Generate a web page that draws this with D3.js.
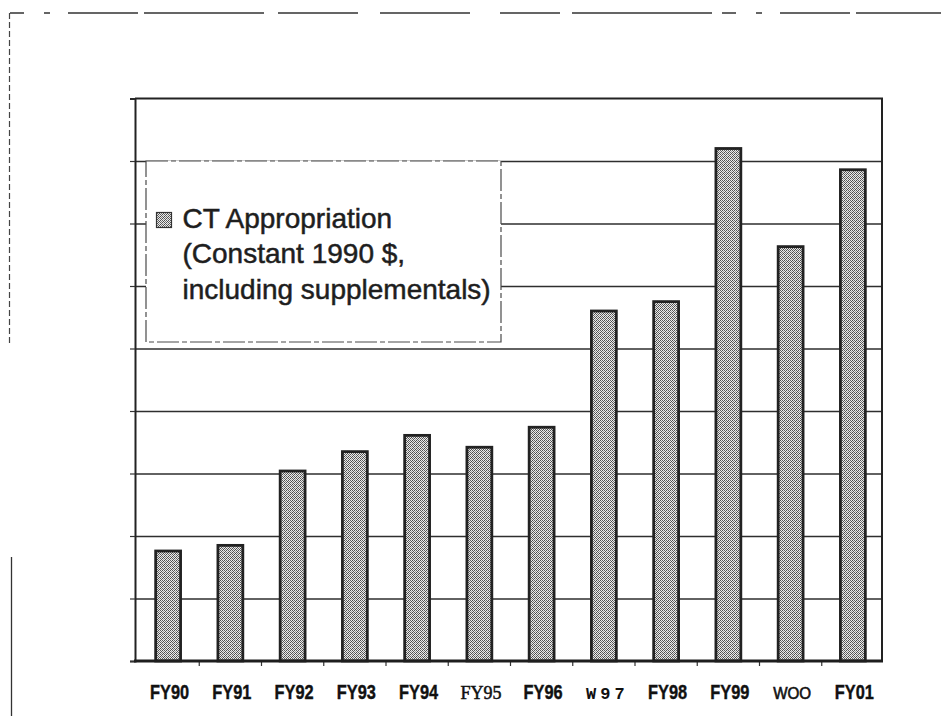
<!DOCTYPE html>
<html>
<head>
<meta charset="utf-8">
<script src="https://cdn.jsdelivr.net/npm/d3@7/dist/d3.min.js"></script>
<style>
  body { margin: 0; background: #fff; }
  svg { display: block; }
</style>
</head>
<body>
<svg id="chart" width="941" height="717"></svg>
<script>
'use strict';

// categories and values (constant 1990 $; gridline = 10)
const years = ['FY90', 'FY91', 'FY92', 'FY93', 'FY94', 'FY95', 'FY96', 'W97', 'FY98', 'FY99', 'WOO', 'FY01'];
const appropriation = [17.6, 18.5, 30.4, 33.5, 36.1, 34.2, 37.4, 56.0, 57.5, 82.0, 66.3, 78.6];
const yTicks = [0, 10, 20, 30, 40, 50, 60, 70, 80, 90];
const legendLines = ['CT Appropriation', '(Constant 1990 $,', 'including supplementals)'];

let svg = d3.select('#chart');

let plotLeft = 135, plotRight = 882, plotTop = 98.5, plotBottom = 661;

// the scan has the labels in a few different faces
let labelStyle = function(d) {
    if (d === 'FY95') return {font: 'font-family: "Liberation Serif", serif; font-size: 18px;', sx: 1, stroke: 0.5, dx: 0};
    if (d === 'W97') return {font: 'font-family: "Liberation Mono", monospace; font-size: 17px; font-weight: bold; letter-spacing: 4px;', sx: 1, stroke: 0, dx: 2};
    if (d === 'WOO') return {font: 'font-family: "Liberation Sans", Arial, sans-serif; font-size: 16px;', sx: 0.95, stroke: 0.6, dx: 0};
    return {font: 'font-family: "Liberation Sans", Arial, sans-serif; font-size: 19.5px; font-weight: bold;', sx: 0.84, stroke: 0.4, dx: 0};
};

let x = d3.scaleBand()
    .domain(years)
    .range([plotLeft + 2, plotRight + 2])
    .paddingInner(0.6)
    .paddingOuter(0.3);

let y = d3.scaleLinear()
    .domain([0, 90])
    .range([plotBottom, plotTop]);

// stipple fill for the bars
let defs = svg.append('defs');
let pat = defs.append('pattern')
    .attr('id', 'stipple')
    .attr('patternUnits', 'userSpaceOnUse')
    .attr('width', 4)
    .attr('height', 4);
pat.append('rect').attr('width', 4).attr('height', 4).attr('fill', '#ebebeb');
[[0, 0, '#4a4a4a'], [2, 0, '#606060'], [1, 1, '#777'], [3, 1, '#4a4a4a'],
 [0, 2, '#5a5a5a'], [2, 2, '#505050'], [1, 3, '#555'], [3, 3, '#999']]
    .forEach(p => pat.append('rect')
        .attr('x', p[0]).attr('y', p[1]).attr('width', 1).attr('height', 1).attr('fill', p[2]));

// outer page frame from the scan
svg.append('line')
    .attr('x1', 10).attr('y1', 13).attr('x2', 941).attr('y2', 13)
    .attr('stroke', '#333').attr('stroke-width', 1.5)
    .attr('stroke-dasharray', '14,20,6,18,70,6,120,14,80,22,90,30,60,12,140,10');
svg.append('line')
    .attr('x1', 9.5).attr('y1', 13).attr('x2', 9.5).attr('y2', 345)
    .attr('stroke', '#444').attr('stroke-width', 1.2)
    .attr('stroke-dasharray', '6,3');
svg.append('line')
    .attr('x1', 11.5).attr('y1', 557).attr('x2', 11.5).attr('y2', 716)
    .attr('stroke', '#333').attr('stroke-width', 1.3);

// gridlines
svg.append('g')
    .attr('transform', `translate(${plotLeft},0)`)
    .call(d3.axisLeft(y).tickValues(yTicks.slice(1, -1)).tickSize(-(plotRight - plotLeft)).tickFormat(''))
    .call(g => g.select('.domain').remove())
    .call(g => g.selectAll('.tick line').attr('stroke', '#2e2e2e').attr('stroke-width', 1.6));

// legend box
let legend = svg.append('g');
legend.append('rect')
    .attr('x', 146).attr('y', 161)
    .attr('width', 355).attr('height', 181)
    .attr('fill', '#fff')
    .attr('stroke', '#4a4a4a').attr('stroke-width', 1.2)
    .attr('stroke-dasharray', '22,3,5,3');
legend.append('rect')
    .attr('x', 156.5).attr('y', 212.5)
    .attr('width', 15).attr('height', 15)
    .attr('fill', 'url(#stipple)')
    .attr('stroke', '#333').attr('stroke-width', 1.2);
legend.append('text')
    .attr('x', 182.5)
    .attr('y', 227.5)
    .attr('fill', '#1e1e1e')
    .attr('stroke', '#1e1e1e')
    .attr('stroke-width', 0.5)
    .attr('style', 'font-family: "Liberation Sans", Arial, sans-serif; font-size: 28px;')
    .selectAll('tspan')
    .data(legendLines)
    .join('tspan')
    .attr('x', 182.5)
    .attr('dy', (d, i) => i === 0 ? 0 : 35.8)
    .text(d => d);

// bars
svg.append('g')
    .selectAll('rect')
    .data(appropriation)
    .join('rect')
    .attr('x', (d, i) => x(years[i]))
    .attr('y', d => y(d))
    .attr('width', x.bandwidth())
    .attr('height', d => y(0) - y(d))
    .attr('fill', 'url(#stipple)')
    .attr('stroke', '#222')
    .attr('stroke-width', 2.8);

// plot frame: top and right
svg.append('path')
    .attr('d', `M${plotLeft},${plotTop}H${plotRight}V${plotBottom}`)
    .attr('fill', 'none')
    .attr('stroke', '#222')
    .attr('stroke-width', 2);

// value axis (no labels in the original, just small outward ticks)
svg.append('g')
    .attr('transform', `translate(${plotLeft},0)`)
    .call(d3.axisLeft(y).tickValues(yTicks).tickSize(5).tickFormat(''))
    .call(g => g.select('.domain').attr('stroke', '#222').attr('stroke-width', 2))
    .call(g => g.selectAll('.tick line').attr('stroke', '#333').attr('stroke-width', 1.2));

// category axis: ticks between the bars
let boundaries = years.map(d => x(d) - x.step() * x.paddingInner() / 2).slice(1);
svg.append('g')
    .selectAll('line')
    .data(boundaries)
    .join('line')
    .attr('x1', d => d).attr('x2', d => d)
    .attr('y1', plotBottom).attr('y2', plotBottom + 5)
    .attr('stroke', '#333').attr('stroke-width', 1.2);
svg.append('line')
    .attr('x1', plotLeft - 1).attr('x2', plotRight + 1)
    .attr('y1', plotBottom).attr('y2', plotBottom)
    .attr('stroke', '#1e1e1e').attr('stroke-width', 3);

svg.append('g')
    .selectAll('text')
    .data(years)
    .join('text')
    .attr('transform', d => `translate(${x(d) + x.bandwidth() / 2 + 1.5 + labelStyle(d).dx},699) scale(${labelStyle(d).sx},1)`)
    .attr('text-anchor', 'middle')
    .attr('fill', '#111')
    .attr('stroke', '#111')
    .attr('stroke-width', d => labelStyle(d).stroke)
    .attr('style', d => labelStyle(d).font)
    .text(d => d);
</script>
</body>
</html>
